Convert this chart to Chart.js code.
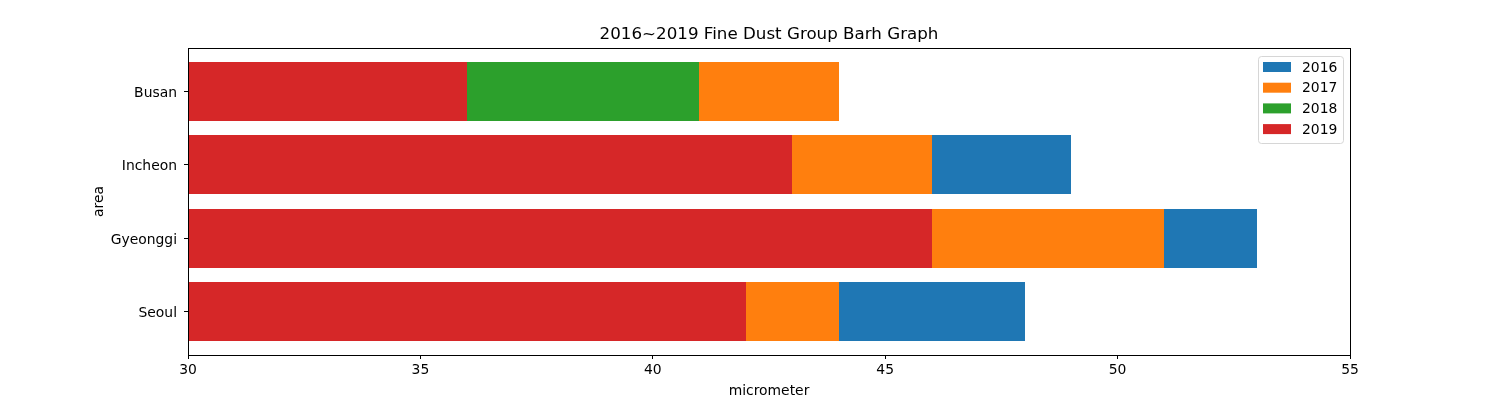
<!DOCTYPE html>
<html>
<head>
<meta charset="utf-8">
<script src="https://cdn.jsdelivr.net/npm/chart.js@4/dist/chart.umd.min.js"></script>
<style>
    html, body { margin: 0; padding: 0; background: #fff; }
    #wrap { width: 1500px; height: 400px; }
</style>
</head>
<body>
<div id="wrap"><canvas id="dustChart" width="1500" height="400"></canvas></div>
<script>
// Data (PM10, micrometer)
const areas = ['Seoul', 'Gyeonggi', 'Incheon', 'Busan'];
const years = ['2016', '2017', '2018', '2019'];
const dust2016 = [48, 53, 49, 44];
const dust2017 = [44, 51, 46, 44];
const dust2018 = [40, 44, 40, 41];
const dust2019 = [42, 46, 43, 36];
const xTicks = [30, 35, 40, 45, 50, 55];

const colors = ['#1f77b4', '#ff7f0e', '#2ca02c', '#d62728'];
const FONT = 'DejaVu Sans';
const TITLE = '2016~2019 Fine Dust Group Barh Graph';

const series = [dust2016, dust2017, dust2018, dust2019];

// Bars overlap like plain plt.barh calls, later year drawn on top
const datasets = series.map((vals, i) => ({
    label: years[i],
    data: vals.map((v, j) => ({ x: v, y: j })),
    backgroundColor: colors[i],
    borderWidth: 0,
    inflateAmount: 0,
    grouped: false,
    categoryPercentage: 0.8,
    barPercentage: 1.0,
    order: series.length - i
}));

// snap bar edges to whole pixels so hidden bars don't bleed at the edges
const snapPlugin = {
    id: 'snap',
    beforeDatasetsDraw(chart) {
        chart.getSortedVisibleDatasetMetas().forEach(meta => {
            meta.data.forEach(bar => {
                const top = Math.round(bar.y - bar.height / 2);
                const bottom = Math.round(bar.y + bar.height / 2);
                bar.height = bottom - top;
                bar.y = top + bar.height / 2;
                bar.x = Math.round(bar.x);
                bar.base = Math.round(bar.base);
            });
        });
    }
};

// Frame, titles and legend inside plot (upper right)
const framePlugin = {
    id: 'frame',
    afterDraw(chart) {
        const { ctx, chartArea: a } = chart;
        ctx.save();
        ctx.strokeStyle = '#000';
        ctx.lineWidth = 1;
        ctx.strokeRect(Math.round(a.left) + 0.5, Math.round(a.top) + 0.5,
            Math.round(a.right - a.left), Math.round(a.bottom - a.top));

        ctx.fillStyle = '#000';
        ctx.textAlign = 'center';
        ctx.textBaseline = 'middle';
        ctx.font = '16.7px "' + FONT + '"';
        ctx.fillText(TITLE, (a.left + a.right) / 2, 35);
        ctx.font = '13.9px "' + FONT + '"';
        ctx.fillText('micrometer', (a.left + a.right) / 2, 391);
        ctx.save();
        ctx.translate(99, (a.top + a.bottom) / 2);
        ctx.rotate(-Math.PI / 2);
        ctx.fillText('area', 0, 0);
        ctx.restore();

        // legend box
        const bx = 1258.5, by = 56.5, bw = 85, bh = 87;
        ctx.beginPath();
        ctx.roundRect(bx, by, bw, bh, 3);
        ctx.fillStyle = 'rgba(255,255,255,0.8)';
        ctx.fill();
        ctx.strokeStyle = '#d6d6d6';
        ctx.stroke();

        ctx.textAlign = 'left';
        years.forEach((y, i) => {
            const cy = 67 + i * 20.7;
            ctx.fillStyle = colors[i];
            ctx.fillRect(1263, cy - 5, 28, 10);
            ctx.fillStyle = '#000';
            ctx.fillText(y, 1302, cy + 1);
        });
        ctx.restore();
    }
};

new Chart(document.getElementById('dustChart').getContext('2d'), {
    type: 'bar',
    data: { datasets: datasets },
    options: {
        indexAxis: 'y',
        responsive: false,
        animation: false,
        devicePixelRatio: 1,
        layout: { padding: { left: 0, right: 150, top: 48, bottom: 0 } },
        plugins: {
            legend: { display: false },
            tooltip: { enabled: false },
            title: { display: false }
        },
        scales: {
            x: {
                type: 'linear',
                min: 30,
                max: 55,
                offset: false,
                afterBuildTicks: (s) => { s.ticks = xTicks.map(v => ({ value: v })); },
                afterFit: (s) => { s.height = 45; },
                grid: { display: true, offset: false, drawOnChartArea: false, drawTicks: true, tickLength: 4, color: '#000' },
                border: { display: true, color: '#000' },
                ticks: { color: '#000', padding: 3, font: { family: FONT, size: 13.9 } }
            },
            y: {
                type: 'linear',
                min: -0.59,
                max: 3.59,
                offset: false,
                afterBuildTicks: (s) => { s.ticks = areas.map((a, i) => ({ value: i })); },
                afterFit: (s) => { s.width = 188; },
                grid: { display: true, offset: false, drawOnChartArea: false, drawTicks: true, tickLength: 4, color: '#000' },
                border: { display: true, color: '#000' },
                ticks: {
                    color: '#000',
                    padding: 7,
                    labelOffset: 2,
                    font: { family: FONT, size: 13.9 },
                    callback: (v) => areas[v]
                }
            }
        }
    },
    plugins: [snapPlugin, framePlugin]
});
</script>
</body>
</html>
